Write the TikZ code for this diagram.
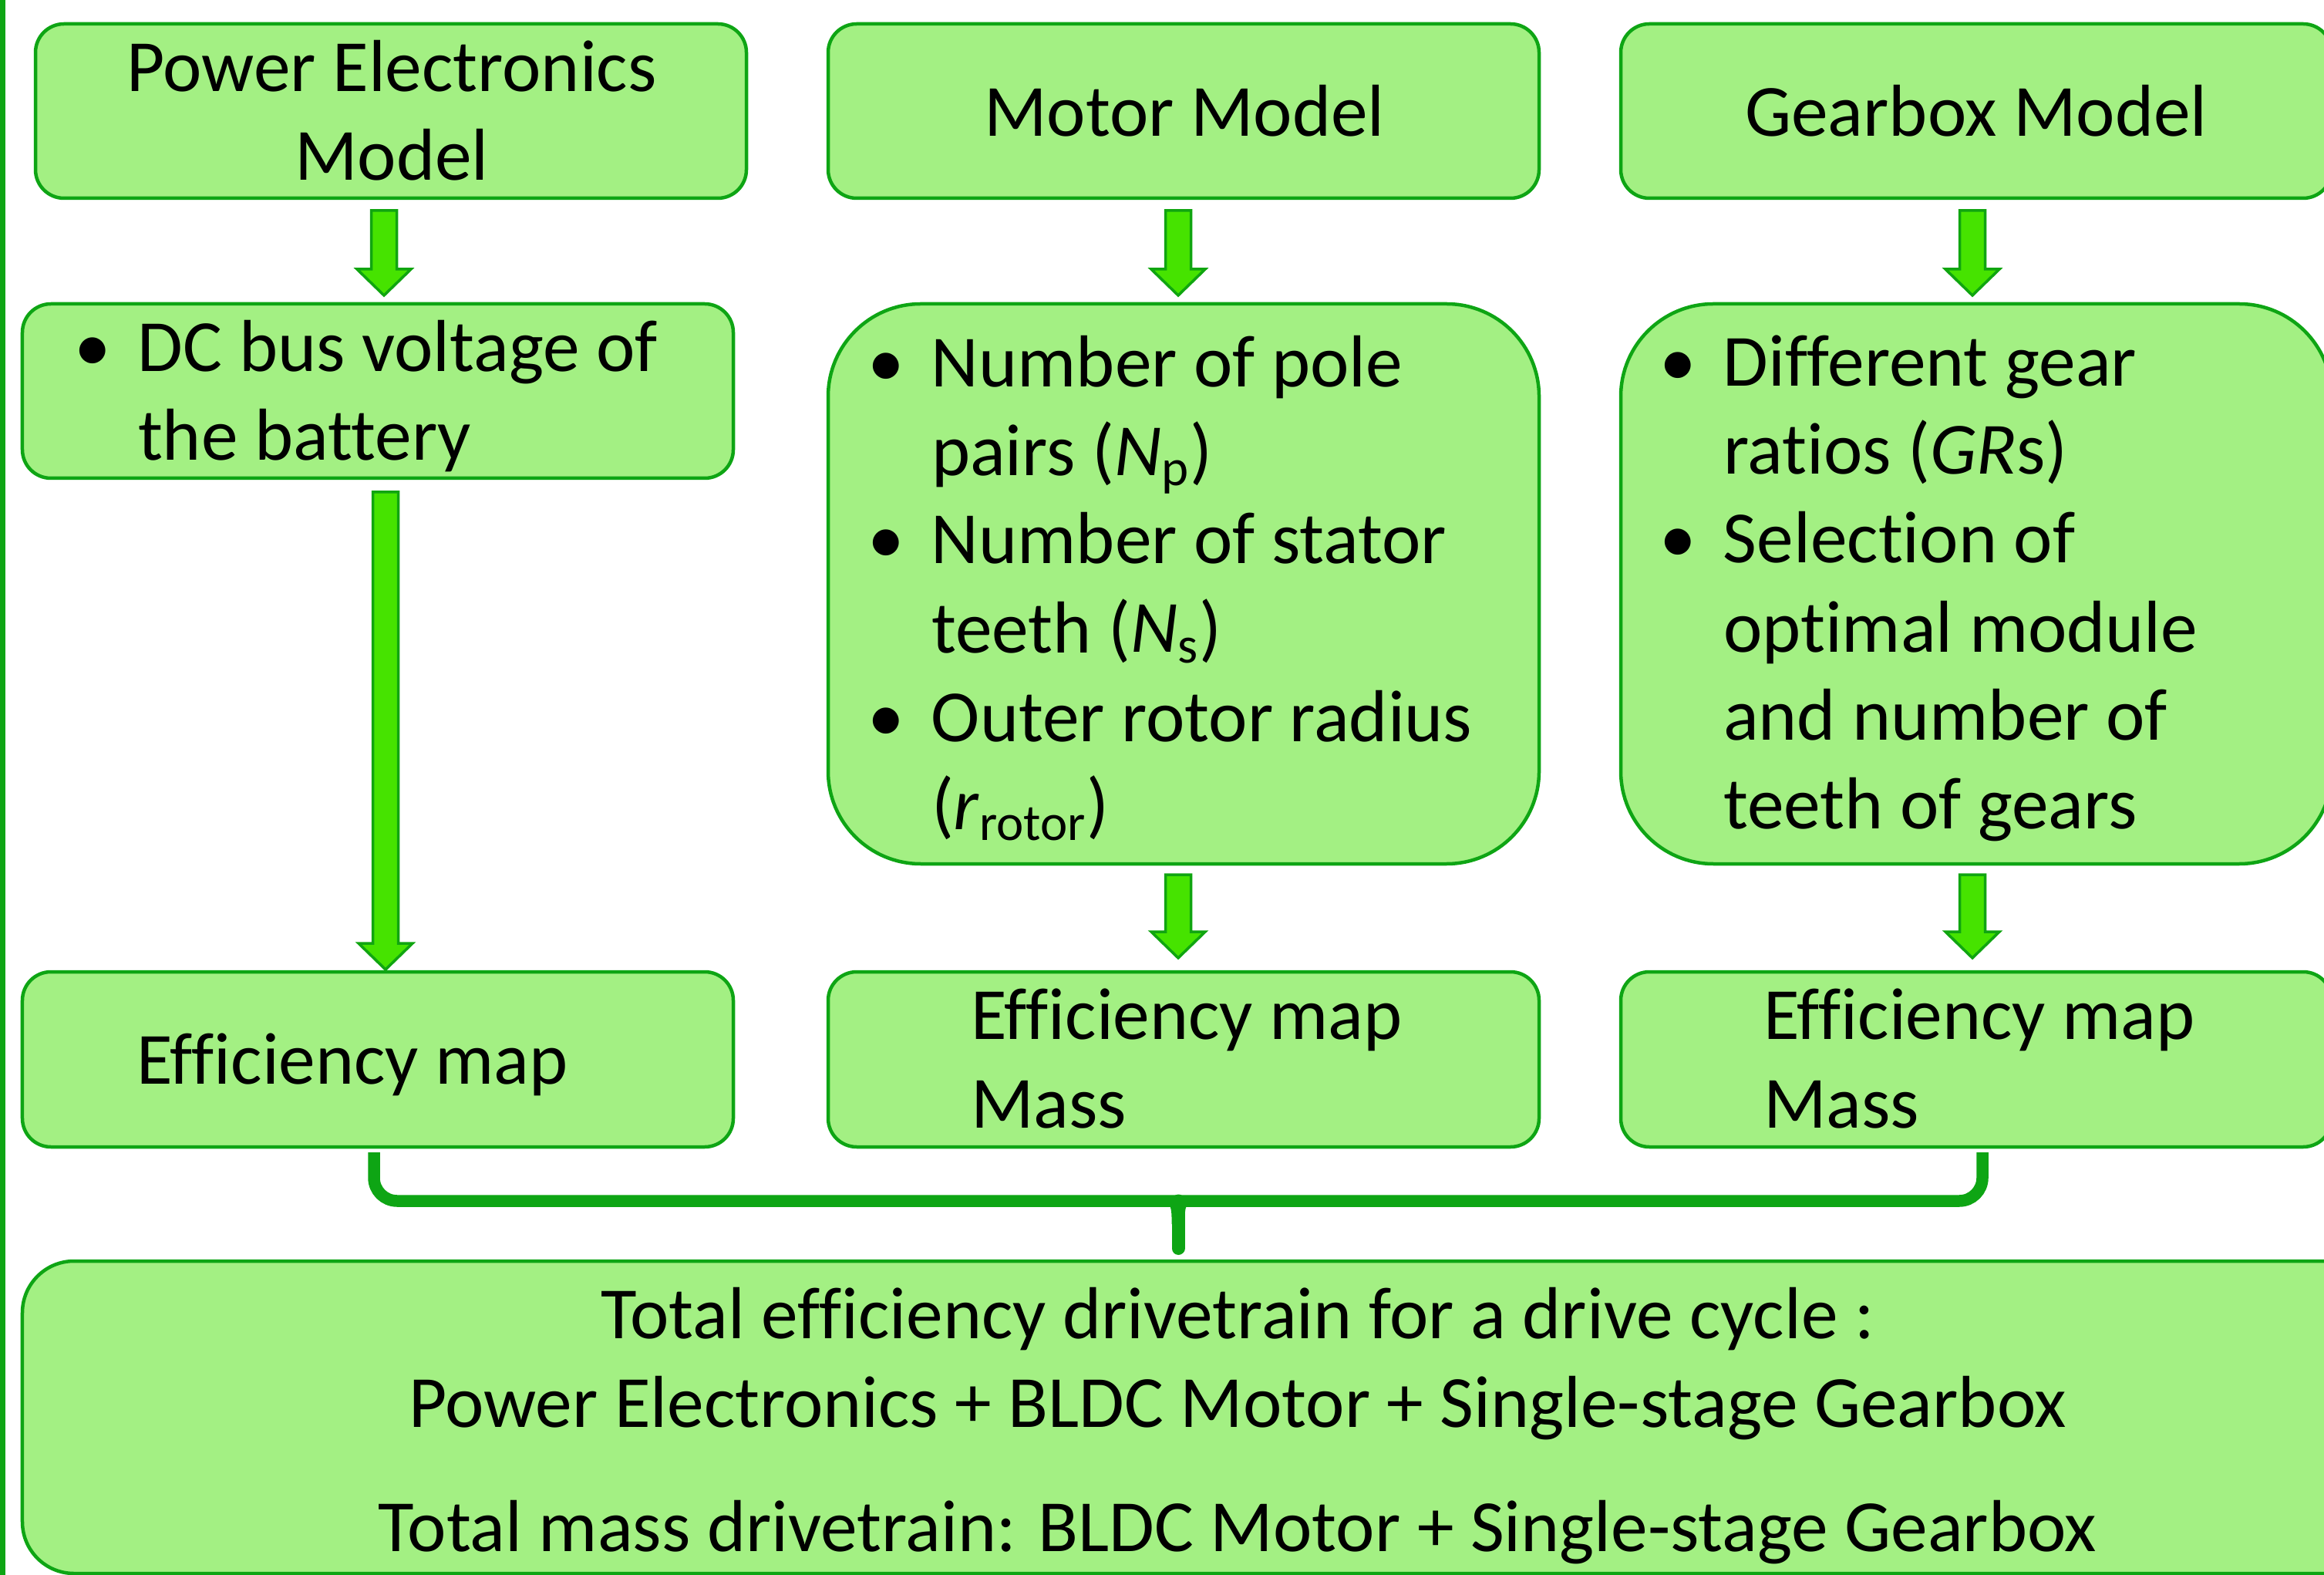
\documentclass[tikz,border=0pt]{standalone}
\usepackage{fontspec}
\setmainfont{Carlito}[Ligatures={TeX,NoCommon}]
\usetikzlibrary{calc}
\definecolor{boxfill}{HTML}{A3F083}
\definecolor{boxline}{HTML}{0EA514}
\definecolor{arrfill}{HTML}{46E300}
\definecolor{arrline}{HTML}{10A510}
\newcommand{\mystrut}{\rule{0pt}{0.75cm}}
\newcommand{\bul}{\makebox[0.83cm][l]{\textbullet}}
\newcommand{\ind}{\hspace*{0.83cm}}
% #1 from anchor, #2 to anchor, #3 x offset, #4 top gap, #5 bottom gap
\newcommand{\blockarrow}[5]{%
  \path[blockarr] let \p1=(#1), \p2=(#2) in
    (\x1+#3-0.165cm, \y1-#4) -- (\x1+#3+0.165cm, \y1-#4)
    -- (\x1+#3+0.165cm, \y2+#5+0.34cm) -- (\x1+#3+0.35cm, \y2+#5+0.34cm)
    -- (\x1+#3, \y2+#5) -- (\x1+#3-0.35cm, \y2+#5+0.34cm)
    -- (\x1+#3-0.165cm, \y2+#5+0.34cm) -- cycle;}
\begin{document}
\begin{tikzpicture}[x=1cm,y=-1cm,
  box/.style={draw=boxline, fill=boxfill, line width=0.045cm, rounded corners=0.37cm,
    minimum width=9.22cm, minimum height=2.26cm, inner sep=0pt, outer sep=0pt},
  bigbox/.style={box, rounded corners=1.2cm, minimum height=7.26cm},
  txt/.style={inner sep=0pt, outer sep=0pt, font=\fontsize{27.15pt}{1.15cm}\selectfont, text=black},
  txtl/.style={txt, align=left, anchor=north west},
  txtc/.style={txt, align=center, anchor=north},
  blockarr/.style={fill=arrfill, draw=arrline, line width=0.035cm, line join=miter},
  bracestyle/.style={draw=boxline, line width=0.155cm, rounded corners=0.3cm}
]
\useasboundingbox (0,0) rectangle (30.14,20.42);
\clip (0,0) rectangle (30.14,20.42);
\fill[white] (0,0) rectangle (30.14,20.42);
\draw[boxline, line width=0.07cm] (0.035,0) -- (0.035,20.42);

% boxes
\node[box] (pe) at (5.07,1.44) {};
\node[box] (mm) at (15.35,1.44) {};
\node[box] (gm) at (25.63,1.44) {};
\node[box] (dc) at (4.90,5.07) {};
\node[bigbox] (mp) at (15.35,7.57) {};
\node[bigbox] (gp) at (25.63,7.57) {};
\node[box, minimum height=2.27cm] (e1) at (4.90,13.735) {};
\node[box, minimum height=2.27cm] (e2) at (15.35,13.735) {};
\node[box, minimum height=2.27cm] (e3) at (25.63,13.735) {};
\node[box, rounded corners=0.67cm, minimum width=31.52cm, minimum height=4.05cm] (tot) at (16.05,18.375) {};

% texts
\node[txtc] (t-pe) at (5.08,0.44) {\mystrut Power Electronics\\Model};
\node[txtc] (t-mm) at (15.36,1.02) {\mystrut Motor Model};
\node[txtc] (t-gm) at (25.63,1.02) {\mystrut Gearbox Model};
\node[txtl] (t-dc) at (0.96,4.07) {\mystrut\bul DC bus voltage of\\\ind the battery};
\node[txtl] (t-mp) at (11.25,4.26) {\mystrut\bul Number of pole\\\ind pairs (\textit{N}\textsubscript{p})\\\bul Number of stator\\\ind teeth (\textit{N}\textsubscript{s})\\\bul Outer rotor radius\\\ind (\textit{r}\textsubscript{rotor})};
\node[txtl] (t-gp) at (21.52,4.25) {\mystrut\bul Different gear\\\ind ratios (\textit{GR}s)\\\bul Selection of\\\ind optimal module\\\ind and number of\\\ind teeth of gears};
\node[txtl] (t-e1) at (1.77,13.30) {\mystrut Efficiency map};
\node[txtl] (t-e2) at (12.59,12.72) {\mystrut Efficiency map\\Mass};
\node[txtl] (t-e3) at (22.87,12.72) {\mystrut Efficiency map\\Mass};
\node[txtc] (t-tot) at (16.05,16.60) {\mystrut Total efficiency drivetrain for a drive cycle :\\Power Electronics + BLDC Motor + Single-stage Gearbox\\[0.46cm]Total mass drivetrain: BLDC Motor + Single-stage Gearbox};

% block arrows
\blockarrow{pe.south}{dc.north}{-0.09cm}{0.16cm}{0.11cm}
\blockarrow{mm.south}{mp.north}{-0.07cm}{0.16cm}{0.11cm}
\blockarrow{gm.south}{gp.north}{-0.05cm}{0.16cm}{0.11cm}
\blockarrow{dc.south}{e1.north}{0.10cm}{0.18cm}{0.03cm}
\blockarrow{mp.south}{e2.north}{-0.07cm}{0.14cm}{0.18cm}
\blockarrow{gp.south}{e3.north}{-0.05cm}{0.14cm}{0.18cm}

% brace
\coordinate (bl) at ([xshift=-0.05cm,yshift=-0.07cm]e1.south);
\coordinate (br) at ([xshift=0.08cm,yshift=-0.07cm]e3.south);
\coordinate (bt) at ([yshift=-0.63cm]$(bl)!0.5!(br)$);
\draw[bracestyle] (bl) -- ([yshift=-0.63cm]bl) -- ([yshift=-0.63cm]br) -- (br);
\fill[boxline] ([xshift=-0.2cm]bt) to[out=0,in=90] ([xshift=-0.085cm,yshift=-0.3cm]bt)
  -- ([xshift=0.085cm,yshift=-0.3cm]bt) to[out=90,in=180] ([xshift=0.2cm]bt) -- cycle;
\draw[boxline, line width=0.17cm, line cap=round] (bt) -- ([yshift=0.165cm]tot.north -| bt);
\end{tikzpicture}
\end{document}
